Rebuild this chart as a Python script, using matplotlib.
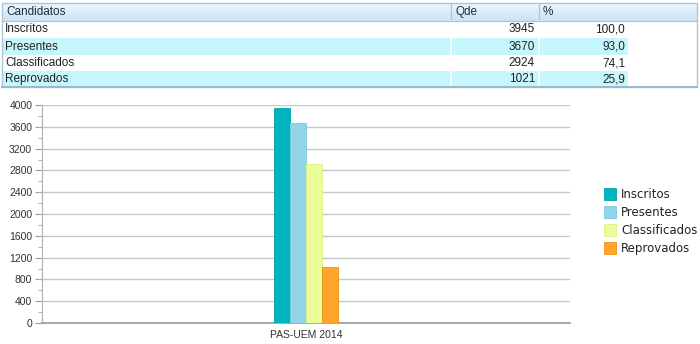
import matplotlib
matplotlib.use("Agg")
import matplotlib.pyplot as plt
from matplotlib.patches import Rectangle
import numpy as np

categories = ["Inscritos", "Presentes", "Classificados", "Reprovados"]
qde = [3945, 3670, 2924, 1021]
pct = ["100,0", "93,0", "74,1", "25,9"]
headers = ["Candidatos", "Qde", "%"]
group_label = "PAS-UEM 2014"
colors = ["#00b5be", "#91d5e8", "#ebfd9b", "#ffa52a"]
edge_colors = ["#00a5ad", "#80c8dc", "#dcef88", "#f09010"]
yticks = list(range(0, 4001, 400))

W, H = 700, 344
fig = plt.figure(figsize=(W / 100, H / 100), dpi=100)
fig.patch.set_facecolor("white")

font = "Liberation Sans"

# ---- Table (drawn in pixel coordinates on a background axes) ----
tax = fig.add_axes([0, 0, 1, 1], zorder=0)
tax.axis("off")

tbl_left, tbl_right = 2, 697
col_x = [2, 451, 539, 628, 697]
row_y = [3, 21, 38, 55, 71, 87]
row_bg = ["white", "#c6f7fd", "white", "#c6f7fd"]

# header gradient
grad = np.linspace(0, 1, 40).reshape(-1, 1)
top = np.array([0.93, 0.965, 0.99])
bot = np.array([0.80, 0.89, 0.955])
img = (top + (bot - top) * grad[..., None]).reshape(40, 1, 3)
tax.imshow(img, extent=(tbl_left, tbl_right, row_y[1], row_y[0]), aspect="auto", zorder=1)
tax.set_xlim(0, W)
tax.set_ylim(H, 0)

for i in range(4):
    y0, y1 = row_y[i + 1], row_y[i + 2]
    tax.add_patch(Rectangle((col_x[0], y0), col_x[3] - col_x[0], y1 - y0,
                            facecolor=row_bg[i], edgecolor="none", zorder=1))
for x in col_x[1:3]:
    tax.plot([x, x], [row_y[0], row_y[1]], color="#a9c6dc", lw=0.9, zorder=2)
for x in col_x[1:3]:
    tax.plot([x, x], [row_y[1], row_y[-1]], color="white", lw=1.2, zorder=2)
tax.plot([tbl_left, tbl_right], [row_y[1], row_y[1]], color="#a9c6dc", lw=0.9, zorder=2)
tax.add_patch(Rectangle((tbl_left, row_y[0]), tbl_right - tbl_left, row_y[-1] - row_y[0],
                        facecolor="none", edgecolor="#a9c6dc", lw=1.0, zorder=3))
tax.plot([tbl_left, tbl_right], [row_y[-1], row_y[-1]], color="#9bb8cf", lw=1.4, zorder=3)

tkw = dict(fontsize=8.5, family=font, color="#222222", va="center")
hkw = dict(fontsize=8.5, family=font, color="#1a2f45", va="center", ha="left")
hy = (row_y[0] + row_y[1]) / 2
tax.text(6, hy, headers[0], **hkw)
tax.text(455, hy, headers[1], **hkw)
tax.text(543, hy, headers[2], **hkw)
for i, (c, q, p) in enumerate(zip(categories, qde, pct)):
    yc = (row_y[i + 1] + row_y[i + 2]) / 2
    tax.text(5, yc, c, ha="left", **tkw)
    tax.text(535, yc, str(q), ha="right", **tkw)
    tax.text(625, yc, p, ha="right", **tkw)

# ---- Chart ----
ax_l, ax_r, ax_t, ax_b = 42, 570, 105, 323
ax = fig.add_axes([ax_l / W, 1 - ax_b / H, (ax_r - ax_l) / W, (ax_b - ax_t) / H], zorder=2)
ax.set_facecolor("none")
ax.set_xlim(-1, 1)
ax.set_ylim(0, 4000)
w = 16 / (ax_r - ax_l) * 2
offsets = (np.arange(len(categories)) - (len(categories) - 1) / 2) * w
for off, v, c, ec, lab in zip(offsets, qde, colors, edge_colors, categories):
    ax.bar(off, v, width=w, color=c, edgecolor=ec, linewidth=0.6, label=lab, zorder=3)

ax.set_yticks(yticks)
ax.set_yticks(np.arange(200, 4000, 400), minor=True)
ax.grid(axis="y", color="#c8c8c8", lw=1.0, zorder=0)
ax.set_xticks([0])
ax.set_xticklabels([group_label], fontsize=7.5, family=font, color="#333333")
ax.tick_params(axis="x", length=0, pad=5)
ax.tick_params(axis="y", which="major", length=5, color="#a0a0a0", labelsize=7.5,
               labelcolor="#333333", pad=2)
ax.tick_params(axis="y", which="minor", length=3, color="#a0a0a0")
for lab in ax.get_yticklabels():
    lab.set_family(font)
for s in ["top", "right"]:
    ax.spines[s].set_visible(False)
ax.spines["left"].set_color("#b0b0b0")
ax.spines["bottom"].set_color("#999999")
ax.spines["bottom"].set_linewidth(1.2)

leg = fig.legend(loc="upper left", bbox_to_anchor=(604 / W, 1 - 188 / H), frameon=False,
                 prop={"family": "DejaVu Sans", "size": 8.5}, handlelength=1.0,
                 handleheight=1.15, handletextpad=0.45, labelspacing=0.42, borderpad=0,
                 borderaxespad=0)
for t in leg.get_texts():
    t.set_color("#222222")

fig.savefig("out.png", dpi=100, facecolor="white")
